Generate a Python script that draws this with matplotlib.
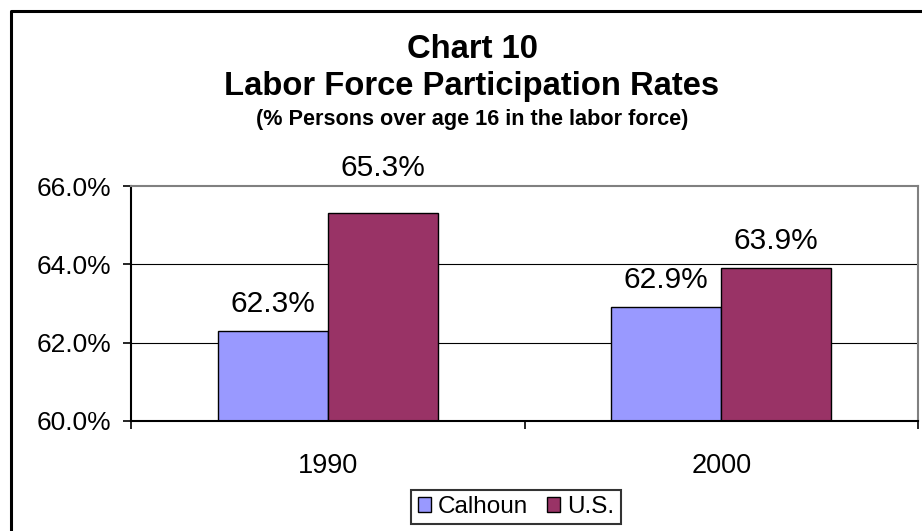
import matplotlib
import matplotlib.pyplot as plt
import numpy as np
from matplotlib.lines import Line2D

matplotlib.use('Agg')
plt.rcParams['font.family'] = ['Liberation Sans', 'DejaVu Sans']

years = ['1990', '2000']
calhoun = [62.3, 62.9]
us = [65.3, 63.9]
series = ['Calhoun', 'U.S.']
colors = ['#9999FF', '#993366']
yticks = [60, 62, 64, 66]

fig = plt.figure(figsize=(9.22, 5.31), dpi=100)
ax = fig.add_axes([131 / 922, 1 - 421 / 531, 787 / 922, 235 / 531])

x = np.arange(len(years))
w = 0.28
b1 = ax.bar(x - w / 2, calhoun, w, color=colors[0], edgecolor='black', linewidth=1, label=series[0])
b2 = ax.bar(x + w / 2, us, w, color=colors[1], edgecolor='black', linewidth=1, label=series[1])

for bars, vals in ((b1, calhoun), (b2, us)):
    for r, v in zip(bars, vals):
        ly = v + 0.7
        if ly > 65.5:
            # keep the label clear of the plot border
            ly = 66.45
        ax.text(r.get_x() + r.get_width() / 2, ly, '%.1f%%' % v,
                ha='center', va='center', fontsize=21.5, clip_on=False)

ax.set_xlim(-0.5, 1.5)
ax.set_ylim(60, 66)
ax.set_yticks(yticks)
ax.set_yticklabels(['%.1f%%' % v for v in yticks], fontsize=19)
ax.set_xticks(x)
ax.set_xticklabels(years, fontsize=19.5)
ax.tick_params(axis='x', length=0, pad=23)
ax.tick_params(axis='y', length=6, width=1.2, direction='out', pad=8)
# category separator ticks
ax.set_xticks([-0.5, 0.5, 1.5], minor=True)
ax.tick_params(axis='x', which='minor', length=6, width=1.2, direction='out')

for g in [62, 64]:
    ax.axhline(g, color='black', linewidth=0.8, zorder=0)
for s in ['top', 'right']:
    ax.spines[s].set_color('#808080')
for s in ['top', 'right', 'left', 'bottom']:
    ax.spines[s].set_linewidth(1.5)

cx = 472 / 922
fig.text(cx, 1 - 58 / 531, 'Chart 10', ha='center', va='baseline', fontsize=23.6, fontweight='bold')
fig.text(cx, 1 - 95 / 531, 'Labor Force Participation Rates', ha='center', va='baseline',
         fontsize=23.6, fontweight='bold')
fig.text(cx, 1 - 125 / 531, '(% Persons over age 16 in the labor force)', ha='center',
         va='baseline', fontsize=15.6, fontweight='bold')

leg = fig.legend(handles=[b1, b2], labels=series, loc='center', bbox_to_anchor=(516 / 922, 1 - 507 / 531),
                 ncol=2, fontsize=17.5, frameon=True, fancybox=False, edgecolor='black',
                 handlelength=0.55, handleheight=0.55, handletextpad=0.3, columnspacing=0.75,
                 borderpad=0.25, borderaxespad=0)
leg.get_frame().set_linewidth(1.5)

# outer chart border (left and top edges visible)
fig.add_artist(Line2D([10.5 / 922, 10.5 / 922, 1], [0, 1 - 10.5 / 531, 1 - 10.5 / 531],
                      transform=fig.transFigure, color='black', linewidth=2.2))

fig.savefig('out.png', dpi=100)
